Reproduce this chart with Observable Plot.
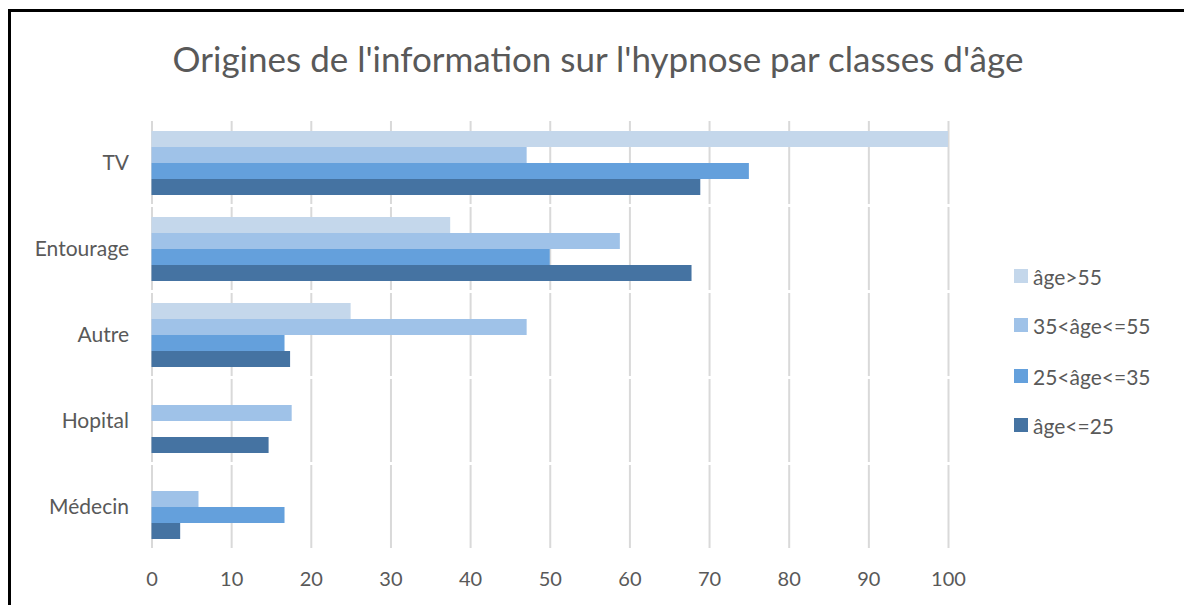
<!DOCTYPE html>
<html>
<head>
<meta charset="utf-8">
<script src="https://cdn.jsdelivr.net/npm/d3@7"></script>
<script src="https://cdn.jsdelivr.net/npm/@observablehq/plot@0.6"></script>
<style>
  html, body { margin: 0; padding: 0; background: #fff; overflow: hidden; }
  #wrap { position: relative; width: 1184px; height: 605px; overflow: hidden; background: #fff; font-family: Lato, "Open Sans", sans-serif; }
  #frame { position: absolute; left: 8px; top: 9px; width: 1400px; height: 800px; border-left: 3px solid #000; border-top: 3px solid #000; box-sizing: border-box; }
  #title { position: absolute; left: 0; width: 1196px; top: 36px; text-align: center; font-size: 35px; line-height: 44px; color: #595959; white-space: nowrap; }
  #chart { position: absolute; left: 0; top: 0; }
  .leg { position: absolute; left: 1014px; display: flex; align-items: center; font-size: 21px; color: #595959; white-space: nowrap; }
  .leg span.sw { display: inline-block; width: 14px; height: 14px; margin-right: 5px; }
</style>
</head>
<body>
<div id="wrap">
  <div id="frame"></div>
  <div id="chart"></div>
  <div id="title">Origines de l'information sur l'hypnose par classes d'âge</div>
  <div id="legend"></div>
</div>
<script>
const categories = ["TV", "Entourage", "Autre", "Hopital", "Médecin"];
const series = ["âge>55", "35<âge<=55", "25<âge<=35", "âge<=25"];
const colors = ["#C4D7EB", "#9FC2E8", "#64A0DC", "#4573A2"];
const valuesOver55 = [100, 37.5, 25, 0, 0];
const values35to55 = [47.1, 58.8, 47.1, 17.6, 5.9];
const values25to35 = [75, 50, 16.7, 0, 16.7];
const valuesUnder25 = [68.9, 67.8, 17.4, 14.7, 3.6];
const xTicks = [0, 10, 20, 30, 40, 50, 60, 70, 80, 90, 100];

const seriesValues = [valuesOver55, values35to55, values25to35, valuesUnder25];
const data = [];
series.forEach((s, si) => {
  categories.forEach((c, ci) => {
    const v = seriesValues[si][ci];
    if (v > 0) data.push({category: c, series: s, value: v});
  });
});

const chart = Plot.plot({
  width: 1184,
  height: 605,
  marginLeft: 151.5,
  marginRight: 236,
  marginTop: 119,
  marginBottom: 55,
  style: {fontFamily: "Lato, 'Open Sans', sans-serif", background: "transparent", overflow: "visible"},
  x: {domain: [0, 100], ticks: xTicks, axis: null},
  fy: {domain: categories, paddingInner: 0.256, paddingOuter: 0.128, axis: null},
  y: {domain: series, padding: 0, axis: null},
  color: {domain: series, range: colors},
  marks: [
    Plot.gridX(xTicks, {stroke: "#D9D9D9", strokeOpacity: 1, strokeWidth: 2, insetTop: -10, insetBottom: -9}),
    Plot.barX(data, {x: "value", y: "series", fy: "category", fill: "series"}),
    Plot.axisX(xTicks, {anchor: "bottom", tickSize: 0, tickPadding: 32, fontSize: 20, fill: "#595959", label: null, tickFormat: d => String(d), facetAnchor: "bottom"}),
    Plot.axisFy({anchor: "left", tickSize: 0, tickPadding: 23, fontSize: 21, fill: "#595959", label: null})
  ]
});
document.getElementById("chart").appendChild(chart);

const legendTops = [276, 325, 376, 425];
const legend = document.getElementById("legend");
series.forEach((s, i) => {
  const d = document.createElement("div");
  d.className = "leg";
  d.style.top = (legendTops[i] - 12) + "px";
  d.style.height = "24px";
  d.innerHTML = `<span class="sw" style="background:${colors[i]}"></span><span>${s}</span>`;
  legend.appendChild(d);
});
</script>
</body>
</html>
